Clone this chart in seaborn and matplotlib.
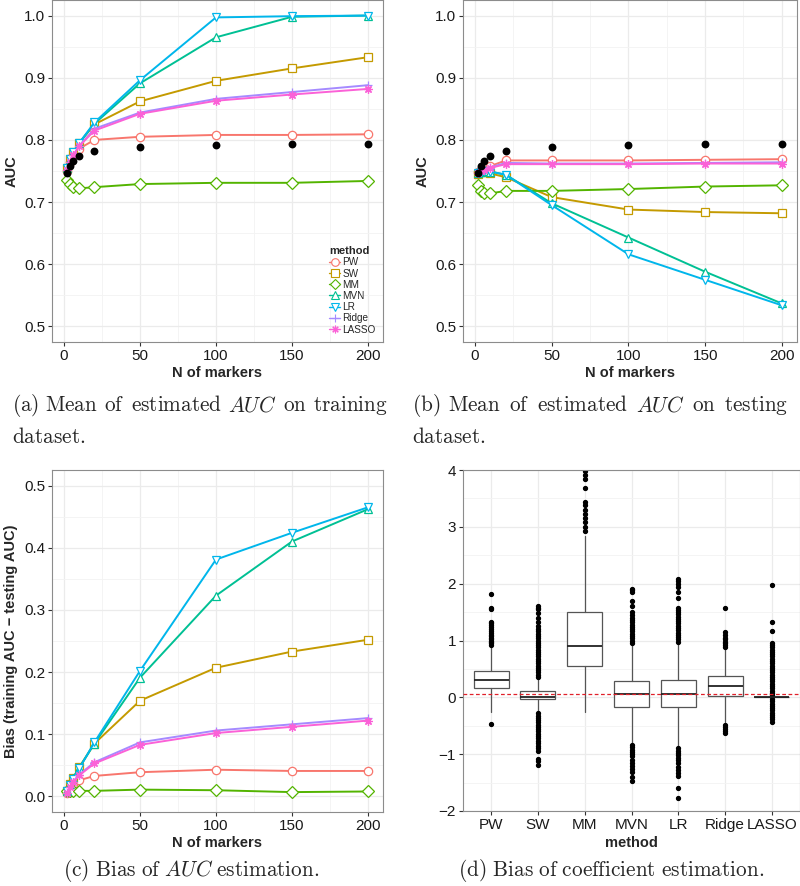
import numpy as np
import pandas as pd
import seaborn as sns
import matplotlib.pyplot as plt
from matplotlib.lines import Line2D
from matplotlib.ticker import MultipleLocator, FormatStrFormatter

n_markers = [2, 4, 6, 10, 20, 50, 100, 150, 200]
methods = ["PW", "SW", "MM", "MVN", "LR", "Ridge", "LASSO"]
colors = ["#F8766D", "#C49A00", "#53B400", "#00C094", "#00B6EB", "#A58AFF", "#FB61D7"]
marker_shapes = ["o", "s", "D", "^", "v", "+", (8, 2, 0)]

true_auc = [0.747, 0.758, 0.766, 0.774, 0.782, 0.789, 0.792, 0.793, 0.794]

# (a) training AUC
train_pw = [0.750, 0.765, 0.775, 0.786, 0.800, 0.805, 0.808, 0.808, 0.809]
train_sw = [0.755, 0.770, 0.780, 0.795, 0.825, 0.862, 0.895, 0.915, 0.933]
train_mm = [0.736, 0.729, 0.724, 0.722, 0.724, 0.729, 0.731, 0.731, 0.734]
train_mvn = [0.755, 0.770, 0.780, 0.795, 0.826, 0.891, 0.965, 0.998, 1.000]
train_lr = [0.755, 0.770, 0.780, 0.795, 0.828, 0.896, 0.997, 0.999, 1.000]
train_ridge = [0.752, 0.765, 0.775, 0.790, 0.818, 0.844, 0.866, 0.877, 0.888]
train_lasso = [0.752, 0.765, 0.775, 0.790, 0.815, 0.842, 0.863, 0.873, 0.882]

# (b) testing AUC
test_pw = [0.748, 0.752, 0.755, 0.758, 0.767, 0.767, 0.767, 0.768, 0.769]
test_sw = [0.745, 0.748, 0.748, 0.746, 0.740, 0.708, 0.688, 0.684, 0.682]
test_mm = [0.727, 0.718, 0.715, 0.714, 0.718, 0.718, 0.721, 0.725, 0.727]
test_mvn = [0.746, 0.749, 0.750, 0.749, 0.744, 0.698, 0.643, 0.588, 0.537]
test_lr = [0.746, 0.749, 0.750, 0.749, 0.744, 0.695, 0.616, 0.575, 0.534]
test_ridge = [0.746, 0.750, 0.752, 0.756, 0.763, 0.762, 0.762, 0.763, 0.764]
test_lasso = [0.746, 0.750, 0.752, 0.755, 0.761, 0.761, 0.761, 0.762, 0.762]

# (c) bias of AUC
bias_pw = [0.005, 0.013, 0.020, 0.026, 0.033, 0.039, 0.043, 0.041, 0.041]
bias_sw = [0.008, 0.020, 0.030, 0.047, 0.085, 0.154, 0.207, 0.233, 0.252]
bias_mm = [0.008, 0.008, 0.009, 0.009, 0.009, 0.011, 0.010, 0.007, 0.008]
bias_mvn = [0.008, 0.020, 0.030, 0.046, 0.085, 0.191, 0.323, 0.410, 0.462]
bias_lr = [0.008, 0.018, 0.028, 0.045, 0.087, 0.202, 0.381, 0.424, 0.465]
bias_ridge = [0.006, 0.015, 0.024, 0.035, 0.055, 0.087, 0.106, 0.116, 0.126]
bias_lasso = [0.006, 0.015, 0.023, 0.034, 0.053, 0.083, 0.102, 0.112, 0.122]

# (d) coefficient bias, box summaries
box_q1 = [0.16, -0.03, 0.56, -0.17, -0.17, 0.03, 0.0]
box_med = [0.31, 0.0, 0.90, 0.065, 0.065, 0.20, 0.0]
box_q3 = [0.47, 0.12, 1.51, 0.28, 0.30, 0.37, 0.012]
box_whislo = [-0.26, -0.25, -0.26, -0.82, -0.86, -0.44, -0.015]
box_whishi = [0.88, 0.33, 2.84, 0.92, 0.95, 0.85, 0.03]
fliers_pw = [0.92, 0.95, 0.98, 1.0, 1.02, 1.05, 1.08, 1.1, 1.13, 1.16, 1.2, 1.23,
             1.27, 1.3, 1.32, 1.55, 1.58, 1.82, -0.47]
fliers_sw = [0.36, 0.4, 0.44, 0.48, 0.52, 0.56, 0.6, 0.64, 0.68, 0.72, 0.76, 0.8,
             0.84, 0.88, 0.92, 0.96, 1.0, 1.04, 1.08, 1.12, 1.16, 1.2, 1.26, 1.32,
             1.4, 1.48, 1.55, 1.58, 1.61,
             -0.28, -0.32, -0.36, -0.4, -0.44, -0.48, -0.52, -0.56, -0.6, -0.64,
             -0.68, -0.72, -0.76, -0.8, -0.86, -0.9, -0.95, -1.08, -1.12, -1.19]
fliers_mm = [2.93, 3.0, 3.08, 3.15, 3.22, 3.29, 3.38, 3.44, 3.69, 3.84, 3.91, 3.98]
fliers_mvn = [0.96, 1.0, 1.04, 1.08, 1.12, 1.16, 1.2, 1.24, 1.28, 1.32, 1.36, 1.4,
              1.44, 1.5, 1.6, 1.7, 1.85, 1.88, 1.91,
              -0.84, -0.88, -0.92, -0.96, -1.0, -1.04, -1.1, -1.16, -1.2, -1.26,
              -1.32, -1.4, -1.47]
fliers_lr = [0.98, 1.02, 1.06, 1.1, 1.14, 1.18, 1.22, 1.26, 1.3, 1.34, 1.38, 1.42,
             1.46, 1.5, 1.54, 1.58, 1.75, 1.85, 1.95, 2.0, 2.04, 2.08,
             -0.9, -0.94, -0.98, -1.02, -1.06, -1.1, -1.16, -1.22, -1.28, -1.34,
             -1.38, -1.6, -1.78]
fliers_ridge = [0.88, 0.92, 0.95, 0.98, 1.02, 1.05, 1.1, 1.15, 1.58,
                -0.48, -0.52, -0.56, -0.6, -0.62]
fliers_lasso = [0.04, 0.08, 0.12, 0.16, 0.2, 0.24, 0.28, 0.32, 0.36, 0.4, 0.44,
                0.48, 0.52, 0.56, 0.6, 0.64, 0.68, 0.72, 0.76, 0.8, 0.84, 0.88,
                0.92, 0.96, 1.17, 1.33, 1.97,
                -0.03, -0.07, -0.11, -0.15, -0.19, -0.23, -0.27, -0.31, -0.35,
                -0.39, -0.43]
box_fliers = [fliers_pw, fliers_sw, fliers_mm, fliers_mvn, fliers_lr,
              fliers_ridge, fliers_lasso]


def long_df(series):
    frames = []
    for m, vals in zip(methods, series):
        frames.append(pd.DataFrame({"n": n_markers, "value": vals, "method": m}))
    return pd.concat(frames, ignore_index=True)


sns.set_theme(style="white")
plt.rcParams["font.family"] = ["Liberation Sans", "DejaVu Sans"]
plt.rcParams["mathtext.fontset"] = "cm"

W, H = 800, 886
fig = plt.figure(figsize=(W / 100, H / 100), dpi=100)


def px_axes(left, top, right, bottom):
    return fig.add_axes([left / W, (H - bottom) / H, (right - left) / W, (bottom - top) / H])


def style_ax(ax):
    for s in ax.spines.values():
        s.set_color("#8c8c8c")
        s.set_linewidth(0.8)
    ax.grid(which="major", color="#ebebeb", lw=0.9)
    ax.grid(which="minor", color="#f3f3f3", lw=0.6)
    ax.set_axisbelow(True)
    ax.tick_params(which="major", length=3, width=0.8, color="#333333",
                   labelsize=11, labelcolor="#1a1a1a", pad=2, left=True, bottom=True)
    ax.tick_params(which="minor", length=0)


def draw_lines(ax, series, ylim, ylabel):
    df = long_df(series)
    sns.lineplot(data=df, x="n", y="value", hue="method",
                 hue_order=methods, palette=colors,
                 errorbar=None, legend=False, ax=ax, lw=1.4)
    # seaborn will not mix filled and line-art markers, so set them per line
    for line, m in zip(ax.lines, marker_shapes):
        line.set_marker(m)
        line.set_markersize(6)
        line.set_markeredgewidth(0.9)
        line.set_markerfacecolor("white")
        line.set_markeredgecolor(line.get_color())
    style_ax(ax)
    ax.set_xlim(-7.9, 209.9)
    ax.set_ylim(*ylim)
    ax.xaxis.set_major_locator(MultipleLocator(50))
    ax.xaxis.set_minor_locator(MultipleLocator(25))
    ax.yaxis.set_major_locator(MultipleLocator(0.1))
    ax.yaxis.set_minor_locator(MultipleLocator(0.05))
    ax.yaxis.set_major_formatter(FormatStrFormatter("%.1f"))
    ax.set_xlabel("N of markers", fontsize=10.5, fontweight="bold", labelpad=2)
    ax.set_ylabel(ylabel, fontsize=10.5, fontweight="bold", labelpad=4)


ax_a = px_axes(52, 0, 383, 342)
draw_lines(ax_a, [train_pw, train_sw, train_mm, train_mvn, train_lr, train_ridge, train_lasso],
           (0.475, 1.025), "AUC")
ax_a.scatter(n_markers, true_auc, s=32, color="black", zorder=4, linewidths=0)

handles = [Line2D([], [], color=c, marker=m, mfc="white", mec=c, lw=1.0, ms=5.5, mew=0.8)
           for c, m in zip(colors, marker_shapes)]
leg = ax_a.legend(handles, methods, title="method", loc="lower right",
                  bbox_to_anchor=(1.0, 0.0), frameon=False, fontsize=7.2,
                  title_fontsize=8, handlelength=1.1, handletextpad=0.2,
                  labelspacing=0.12, borderpad=0.25)
leg.get_title().set_fontweight("bold")
leg._legend_box.align = "left"

ax_b = px_axes(463, 0, 797, 342)
draw_lines(ax_b, [test_pw, test_sw, test_mm, test_mvn, test_lr, test_ridge, test_lasso],
           (0.475, 1.025), "AUC")
ax_b.scatter(n_markers, true_auc, s=32, color="black", zorder=4, linewidths=0)

ax_c = px_axes(52, 470, 383, 812)
draw_lines(ax_c, [bias_pw, bias_sw, bias_mm, bias_mvn, bias_lr, bias_ridge, bias_lasso],
           (-0.025, 0.525), "Bias (training AUC \u2212 testing AUC)")

# (d) boxplots
ax_d = px_axes(463, 470, 800, 811)
stats = []
for i, m in enumerate(methods):
    stats.append({"label": m, "q1": box_q1[i], "med": box_med[i], "q3": box_q3[i],
                  "whislo": box_whislo[i], "whishi": box_whishi[i],
                  "fliers": box_fliers[i]})
ax_d.bxp(stats, positions=range(len(methods)), widths=0.75, patch_artist=True,
         showcaps=False,
         boxprops=dict(facecolor="white", edgecolor="#555555", lw=0.9),
         medianprops=dict(color="#222222", lw=1.3),
         whiskerprops=dict(color="#555555", lw=0.9),
         flierprops=dict(marker="o", markersize=2.8, mfc="black", mec="black"))
ax_d.axhline(0.05, color="#e0202a", lw=0.9, ls=(0, (3, 2)), zorder=5)
style_ax(ax_d)
ax_d.set_xlim(-0.6, 6.6)
ax_d.set_ylim(-2, 4)
ax_d.yaxis.set_major_locator(MultipleLocator(1))
ax_d.yaxis.set_minor_locator(MultipleLocator(0.5))
ax_d.set_xticks(range(len(methods)))
ax_d.set_xticklabels(methods)
ax_d.set_xlabel("method", fontsize=10.5, fontweight="bold", labelpad=3)


# captions
cap_size = 15.3


def to_fig(y):
    return (H - y) / H


def justified(words, x0, x1, y):
    texts = [fig.text(0, to_fig(y), w, fontsize=cap_size, va="baseline", ha="left")
             for w in words]
    fig.canvas.draw()
    r = fig.canvas.get_renderer()
    widths = [t.get_window_extent(r).width for t in texts]
    gap = ((x1 - x0) - sum(widths)) / (len(words) - 1)
    x = x0
    for t, w in zip(texts, widths):
        t.set_x(x / W)
        x += w + gap


def rm(s):
    return r"$\mathrm{" + s + "}$"


justified([rm("(a)"), rm("Mean"), rm("of"), rm("estimated"), r"$AUC$", rm("on"),
           rm("training")], 12, 388, 411)
fig.text(12 / W, to_fig(443), rm("dataset."), fontsize=cap_size, va="baseline")
justified([rm("(b)"), rm("Mean"), rm("of"), rm("estimated"), r"$AUC$", rm("on"),
           rm("testing")], 412, 788, 411)
fig.text(412 / W, to_fig(443), rm("dataset."), fontsize=cap_size, va="baseline")
fig.text(191 / W, to_fig(876),
         r"$\mathrm{(c)\ Bias\ of\ }AUC\mathrm{\ estimation.}$",
         fontsize=cap_size, va="baseline", ha="center")
fig.text(611 / W, to_fig(876),
         r"$\mathrm{(d)\ Bias\ of\ coefficient\ estimation.}$",
         fontsize=cap_size, va="baseline", ha="center")

fig.savefig("out.png", dpi=100)
